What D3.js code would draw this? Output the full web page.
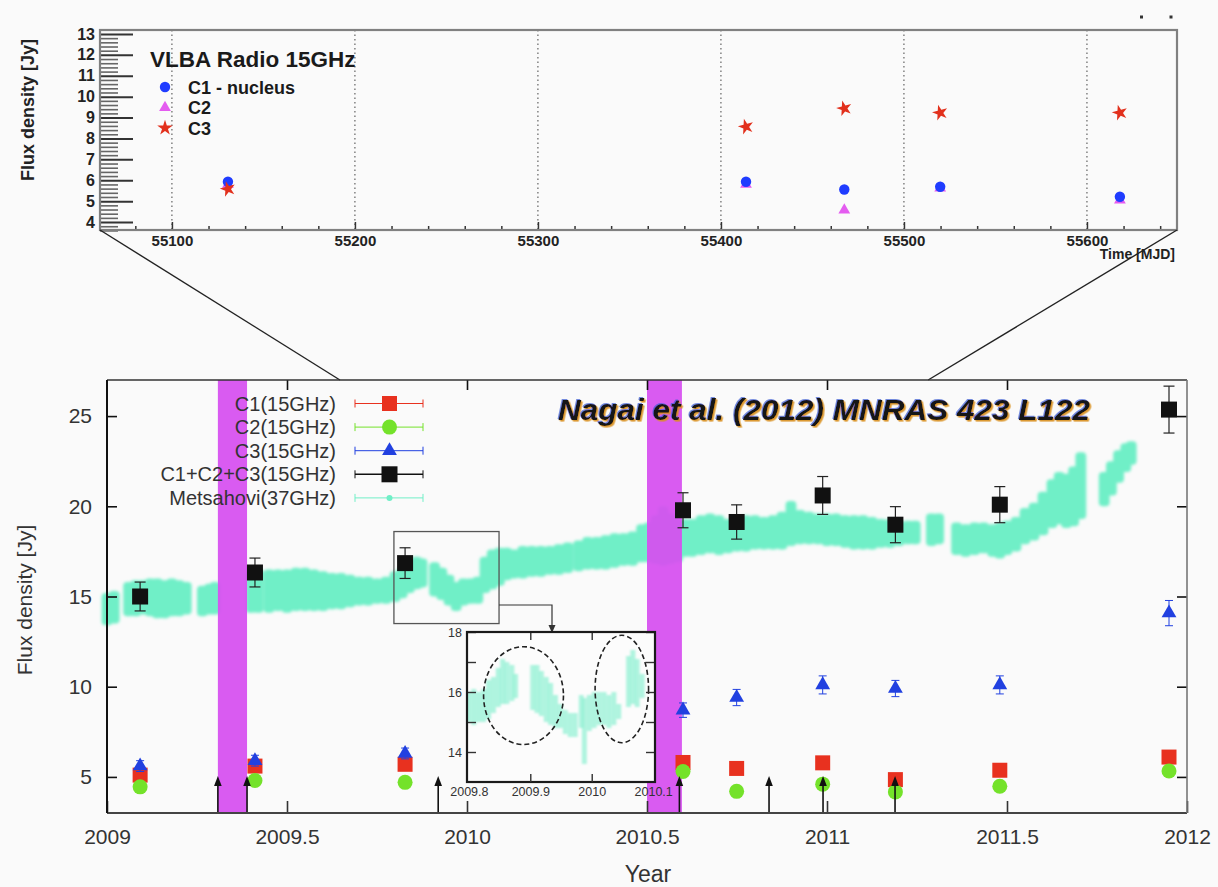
<!DOCTYPE html>
<html><head><meta charset="utf-8">
<script src="https://cdn.jsdelivr.net/npm/d3@7"></script>
<style>
html,body{margin:0;padding:0;background:#fafafa;}
svg{display:block;font-family:"Liberation Sans", Arial, Helvetica, sans-serif;}
</style></head><body>
<svg id="c" width="1218" height="887"></svg>
<script>
// ================= DATA =================
// --- top panel: VLBA 15 GHz (MJD)
const vlbaMJD = [55130.6, 55413.7, 55467.4, 55519.8, 55618.0];
const vlbaC1  = [5.93, 5.93, 5.56, 5.69, 5.21];
const vlbaC2  = [5.80, 5.80, 4.57, 5.62, 5.05];
const vlbaC3  = [5.58, 8.56, 9.44, 9.23, 9.23];
const mjdTicks = [55100, 55200, 55300, 55400, 55500, 55600];
const topYTicks = [4, 5, 6, 7, 8, 9, 10, 11, 12, 13];
const topLegend = ["C1 - nucleus", "C2", "C3"];

// --- main panel: components at 15 GHz (year)
const years    = [2009.092, 2009.411, 2009.828, 2010.600, 2010.749, 2010.988, 2011.190, 2011.480, 2011.950];
const c1       = [5.10, 5.60, 5.70, 5.80, 5.47, 5.78, 4.85, 5.37, 6.10];
const c2       = [4.45, 4.80, 4.70, 5.30, 4.20, 4.60, 4.17, 4.48, 5.33];
const c3       = [5.60, 5.90, 6.30, 8.70, 9.40, 10.10, 9.90, 10.10, 14.08];
const c3Err    = [0.30, 0.30, 0.30, 0.40, 0.45, 0.50, 0.45, 0.50, 0.70];
const total    = [15.00, 16.33, 16.85, 19.78, 19.13, 20.60, 18.98, 20.09, 25.36];
const totalErr = [0.80, 0.80, 0.85, 0.97, 0.95, 1.05, 1.00, 1.00, 1.30];
const xTicks = [2009, 2009.5, 2010, 2010.5, 2011, 2011.5, 2012];
const yTicks = [5, 10, 15, 20, 25];
const legendLabels = ["C1(15GHz)", "C2(15GHz)", "C3(15GHz)", "C1+C2+C3(15GHz)", "Metsahovi(37GHz)"];

// --- Metsahovi 37 GHz light curve, read as (time, lower edge, upper edge) of the point cloud
const metT = [2009.000,2009.020,2009.060,2009.080,2009.100,2009.120,2009.140,2009.160,2009.180,2009.200,2009.220,
  2009.265,2009.285,2009.300,
  2009.400,2009.420,2009.450,2009.475,2009.500,2009.525,2009.550,2009.575,2009.600,2009.625,2009.650,2009.675,2009.700,2009.725,2009.750,2009.775,
  2009.800,2009.820,2009.840,2009.860,2009.875,
  2009.910,2009.930,2009.950,2009.970,2009.990,2010.010,2010.030,2010.050,2010.070,2010.090,2010.110,2010.130,2010.155,2010.180,2010.205,2010.230,2010.255,
  2010.280,2010.310,2010.335,2010.360,2010.385,2010.410,2010.435,2010.460,2010.485,2010.505,2010.525,2010.545,2010.565,2010.585,2010.605,2010.625,
  2010.650,2010.675,2010.700,2010.725,2010.750,2010.775,2010.800,2010.825,2010.850,2010.875,2010.900,2010.925,2010.950,2010.975,
  2011.000,2011.025,2011.050,2011.075,2011.100,2011.125,2011.150,2011.175,2011.200,2011.225,2011.245,
  2011.290,2011.310,
  2011.360,2011.385,2011.410,2011.435,2011.460,2011.480,2011.500,2011.525,2011.550,2011.575,2011.600,2011.625,2011.645,2011.665,2011.685,2011.705,
  2011.770,2011.790,2011.810,2011.830,2011.845];
const metLo = [13.4,13.5,13.9,13.9,14.0,13.9,13.8,13.8,13.9,13.9,14.0,
  13.9,14.0,14.0,
  14.1,14.1,14.1,14.2,14.1,14.2,14.2,14.2,14.2,14.3,14.3,14.4,14.5,14.5,14.6,14.6,
  14.7,14.9,15.2,15.4,15.5,
  15.0,14.8,14.5,14.2,14.5,14.6,14.6,15.2,15.4,15.6,15.9,16.0,16.0,16.1,16.1,16.2,16.2,
  16.3,16.4,16.5,16.5,16.5,16.6,16.7,16.7,16.9,16.9,16.8,16.7,16.8,16.9,17.2,17.2,
  17.3,17.4,17.3,17.4,17.5,17.5,17.6,17.6,17.6,17.6,17.8,17.9,17.9,17.9,
  17.8,17.8,17.7,17.6,17.6,17.6,17.7,17.7,17.8,17.9,17.9,
  17.8,17.9,
  17.3,17.2,17.3,17.4,17.2,17.1,17.3,17.5,17.9,18.1,18.4,18.8,19.0,18.8,18.9,19.3,
  20.0,20.6,21.3,21.9,22.3];
const metHi = [15.2,15.3,15.8,15.9,15.9,16.0,16.0,15.9,16.0,15.9,15.8,
  15.6,15.7,15.8,
  16.4,16.5,16.5,16.5,16.5,16.6,16.6,16.5,16.4,16.3,16.3,16.2,16.1,16.1,16.0,16.1,
  16.4,16.6,17.0,17.2,17.1,
  16.9,16.6,16.2,15.8,16.0,16.0,16.1,17.2,17.6,17.7,17.7,17.6,17.8,17.8,17.8,17.8,17.9,
  18.0,18.1,18.3,18.3,18.4,18.5,18.5,18.6,19.0,19.1,19.5,20.0,19.6,19.3,19.3,19.3,
  19.5,19.6,19.5,19.3,19.4,19.5,19.5,19.4,19.5,19.7,20.3,19.8,19.7,19.6,
  19.6,19.6,19.5,19.5,19.5,19.4,19.3,19.3,19.2,19.2,19.2,
  19.6,19.6,
  19.1,19.0,19.1,19.1,19.0,19.1,19.2,19.4,19.9,20.2,20.8,21.5,21.9,21.8,22.2,23.0,
  21.9,22.5,23.1,23.5,23.6];

// --- inset (zoom on 2009.8 - 2010.1)
const insT = [2009.800,2009.808,2009.816,2009.824,2009.832,2009.840,2009.848,2009.855,2009.862,2009.870,2009.876,
  2009.904,2009.911,2009.918,2009.926,2009.933,2009.941,2009.949,2009.957,2009.965,2009.973,2009.983,2009.988,
  2009.996,2010.004,2010.012,2010.020,2010.028,2010.036,2010.044,2010.060,2010.067,2010.074,2010.082];
const insLo = [15.0,14.9,15.0,15.0,15.1,15.3,15.5,15.6,15.6,15.7,15.8,
  15.4,15.3,15.2,15.0,14.9,14.8,14.8,14.6,14.5,14.5,14.8,13.6,
  14.7,14.8,14.9,14.9,14.8,14.9,15.1,15.5,15.6,15.5,15.8];
const insHi = [16.0,16.1,16.0,16.1,16.4,16.5,16.8,17.1,17.0,16.9,16.6,
  16.9,16.9,16.7,16.5,16.3,15.9,15.6,15.4,15.3,15.3,15.9,15.8,
  15.9,16.0,16.0,16.0,15.9,16.0,15.6,17.2,17.4,17.1,16.6];
const insXTicks = [2009.8, 2009.9, 2010, 2010.1];
const insYTicks = [14, 15, 16, 17, 18];
const insBox = {t0: 2009.797, t1: 2010.089, v0: 13.5, v1: 18.6};   // box marked on the main light curve
const ellipses = [{t: 2009.889, v: 15.88, dt: 0.065, dv: 1.63}, {t: 2010.049, v: 16.10, dt: 0.0435, dv: 1.79}];

// --- flares (magenta bands), arrows, zoom connector
const bandStart = [2009.308, 2010.500];
const bandEnd   = [2009.389, 2010.597];
const arrowYears = [2009.308, 2009.389, 2009.920, 2010.590, 2010.839, 2010.989, 2011.189];
const arrowTip = 5.05;
const zoomYears = [2009.647, 2011.281];

// ================= DRAWING =================
const W = 1218, H = 887;
const svg = d3.select("#c");
svg.append("rect").attr("width", W).attr("height", H).attr("fill", "#fafafa");
const defs = svg.append("defs");
defs.append("filter").attr("id", "blur").attr("x", "-5%").attr("y", "-5%").attr("width", "110%").attr("height", "110%")
  .append("feGaussianBlur").attr("stdDeviation", 1.8);
defs.append("filter").attr("id", "blurS").attr("x", "-5%").attr("y", "-5%").attr("width", "110%").attr("height", "110%")
  .append("feGaussianBlur").attr("stdDeviation", 1.0);
const tf = defs.append("filter").attr("id", "tshadow").attr("x", "-5%").attr("y", "-30%").attr("width", "110%").attr("height", "160%");
tf.append("feDropShadow").attr("dx", -1).attr("dy", -1).attr("stdDeviation", 0.4).attr("flood-color", "#3b5bd0").attr("flood-opacity", 0.7);
tf.append("feDropShadow").attr("dx", 1.6).attr("dy", 1.6).attr("stdDeviation", 0.4).attr("flood-color", "#d9901c").attr("flood-opacity", 0.9);
defs.append("clipPath").attr("id", "insClip").append("rect")
  .attr("x", 467).attr("y", 632).attr("width", 188).attr("height", 150);

const COL = {red: "#e8311f", green: "#74e22a", blue: "#2140e0", cyan: "#70efc7", mag: "#d64ff0",
             tBlue: "#1f3cff", tMag: "#e45cf0", tRed: "#e2301c"};

// ---------- TOP PANEL ----------
const T = {l: 100, r: 1177, t: 30, b: 230};
const xm = d3.scaleLinear().domain([55060.7, 55649.2]).range([T.l, T.r]);
const ym = d3.scaleLinear().domain([3.62, 13.19]).range([T.b, T.t]);
const topG = svg.append("g");

topG.selectAll("line.grid").data(mjdTicks).join("line")
  .attr("x1", d => xm(d)).attr("x2", d => xm(d)).attr("y1", T.t).attr("y2", T.b)
  .attr("stroke", "#444").attr("stroke-width", 1).attr("stroke-dasharray", "1.5,3");

const minorY = d3.range(36, 132, 2).map(d => d / 10).filter(d => d % 1 !== 0);
topG.append("g").attr("transform", `translate(${T.l},0)`)
  .call(d3.axisLeft(ym).tickValues(minorY).tickSize(-18).tickFormat(""))
  .call(g => g.select(".domain").remove())
  .call(g => g.selectAll("line").attr("stroke", "#666").attr("stroke-width", 1.6));
topG.append("g").attr("transform", `translate(${T.l},0)`)
  .call(d3.axisLeft(ym).tickValues(topYTicks).tickSize(-33).tickPadding(5))
  .call(g => g.select(".domain").remove())
  .call(g => g.selectAll("line").attr("stroke", "#333").attr("stroke-width", 2))
  .call(g => g.selectAll("text").attr("font-size", 16).attr("font-weight", "bold").attr("fill", "#222")
    .attr("font-family", "'Liberation Sans', Arial, sans-serif"));

const minorX = d3.range(55080, 55649, 20).filter(d => d % 100 !== 0);
topG.append("g").attr("transform", `translate(0,${T.b})`)
  .call(d3.axisBottom(xm).tickValues(minorX).tickSize(-4).tickFormat(""))
  .call(g => g.select(".domain").remove())
  .call(g => g.selectAll("line").attr("stroke", "#333").attr("stroke-width", 1.5));
topG.append("g").attr("transform", `translate(0,${T.b})`)
  .call(d3.axisBottom(xm).tickValues(mjdTicks).tickSize(-8).tickPadding(5).tickFormat(d3.format("d")))
  .call(g => g.select(".domain").remove())
  .call(g => g.selectAll("line").attr("stroke", "#333").attr("stroke-width", 1.5))
  .call(g => g.selectAll("text").attr("font-size", 15).attr("font-weight", "bold").attr("fill", "#222")
    .attr("font-family", "'Liberation Sans', Arial, sans-serif"));

topG.append("rect").attr("x", T.l).attr("y", T.t).attr("width", T.r - T.l).attr("height", T.b - T.t)
  .attr("fill", "none").attr("stroke", "#808080").attr("stroke-width", 2.2);

topG.append("text").attr("x", T.r - 2).attr("y", 259).attr("text-anchor", "end")
  .attr("font-size", 14).attr("font-weight", "bold").attr("fill", "#222").text("Time [MJD]");
topG.append("text").attr("transform", `translate(34,${(T.t + T.b) / 2 - 20}) rotate(-90)`)
  .attr("text-anchor", "middle").attr("font-size", 18).attr("font-weight", "bold").attr("fill", "#222")
  .text("Flux density [Jy]");

const symC = d3.symbol().type(d3.symbolCircle).size(85);
const symT = d3.symbol().type(d3.symbolTriangle).size(60);
const symS = d3.symbol().type(d3.symbolStar).size(75);
const vlba = vlbaMJD.map((m, i) => ({m, c1: vlbaC1[i], c2: vlbaC2[i], c3: vlbaC3[i]}));
topG.selectAll("path.c2").data(vlba).join("path").attr("d", symT)
  .attr("transform", d => `translate(${xm(d.m)},${ym(d.c2)})`).attr("fill", COL.tMag);
topG.selectAll("path.c1").data(vlba).join("path").attr("d", symC)
  .attr("transform", d => `translate(${xm(d.m)},${ym(d.c1)})`).attr("fill", COL.tBlue);
topG.selectAll("path.c3").data(vlba).join("path").attr("d", symS)
  .attr("transform", d => `translate(${xm(d.m)},${ym(d.c3)}) rotate(-15)`).attr("fill", COL.tRed);

// top legend
topG.append("text").attr("x", 150).attr("y", 67).attr("font-size", 22.5).attr("font-weight", "bold")
  .attr("fill", "#1a1a1a").text("VLBA Radio 15GHz");
const tl = topG.selectAll("g.tl").data(topLegend).join("g")
  .attr("transform", (d, i) => `translate(0,${87 + i * 20.5})`);
tl.append("path").attr("d", (d, i) => [symC, symT, symS][i]())
  .attr("transform", "translate(165,0)").attr("fill", (d, i) => [COL.tBlue, COL.tMag, COL.tRed][i]);
tl.append("text").attr("x", 188).attr("y", 6.5).attr("font-size", 18).attr("font-weight", "bold")
  .attr("fill", "#1a1a1a").text(d => d);

svg.append("rect").attr("x", 1140).attr("y", 15.5).attr("width", 3).attr("height", 3).attr("fill", "#333");
svg.append("rect").attr("x", 1169.5).attr("y", 15.5).attr("width", 3).attr("height", 3).attr("fill", "#333");

// ---------- MAIN PANEL ----------
const M = {l: 107, r: 1187, t: 380, b: 813};
const x = d3.scaleLinear().domain([2009, 2012]).range([M.l, M.r]);
const y = d3.scaleLinear().domain([3, 27]).range([M.b, M.t]);
const main = svg.append("g");

// zoom connector lines
main.append("line").attr("x1", T.l).attr("y1", T.b).attr("x2", x(zoomYears[0])).attr("y2", M.t)
  .attr("stroke", "#222").attr("stroke-width", 1.4);
main.append("line").attr("x1", T.r).attr("y1", T.b).attr("x2", x(zoomYears[1])).attr("y2", M.t)
  .attr("stroke", "#222").attr("stroke-width", 1.4);

// Metsahovi cloud
const met = metT.map((t, i) => ({t, lo: metLo[i], hi: metHi[i]}));
const bw = x(2009.03) - x(2009);
main.append("g").attr("filter", "url(#blur)").selectAll("rect").data(met).join("rect")
  .attr("x", d => x(d.t) - bw / 2).attr("width", bw)
  .attr("y", d => y(d.hi)).attr("height", d => y(d.lo) - y(d.hi))
  .attr("rx", 4).attr("fill", COL.cyan);

// box on the curve + arrow to inset
main.append("rect").attr("x", x(insBox.t0)).attr("y", y(insBox.v1))
  .attr("width", x(insBox.t1) - x(insBox.t0)).attr("height", y(insBox.v0) - y(insBox.v1))
  .attr("fill", "none").attr("stroke", "#555").attr("stroke-width", 1.3);
main.append("path").attr("d", `M${x(insBox.t1)},605 H552 V626`).attr("fill", "none")
  .attr("stroke", "#333").attr("stroke-width", 1.2);
main.append("path").attr("d", "M548.5,625 L555.5,625 L552,633 Z").attr("fill", "#333");

// inset
const I = {l: 467, r: 655, t: 632, b: 782};
const xi = d3.scaleLinear().domain([2009.797, 2010.103]).range([I.l, I.r]);
const yi = d3.scaleLinear().domain([13, 18]).range([I.b, I.t]);
const ins = svg.append("g");
ins.append("rect").attr("x", I.l).attr("y", I.t).attr("width", I.r - I.l).attr("height", I.b - I.t).attr("fill", "#fcfcfc");
const insD = insT.map((t, i) => ({t, lo: insLo[i], hi: insHi[i]}));
ins.append("g").attr("clip-path", "url(#insClip)").attr("filter", "url(#blurS)")
  .selectAll("rect").data(insD).join("rect")
  .attr("x", d => xi(d.t) - 2.5).attr("width", 5)
  .attr("y", d => yi(d.hi)).attr("height", d => yi(d.lo) - yi(d.hi))
  .attr("fill", "#86f0d0").attr("opacity", 0.65);
ins.selectAll("ellipse").data(ellipses).join("ellipse")
  .attr("cx", d => xi(d.t)).attr("cy", d => yi(d.v))
  .attr("rx", d => xi(d.t + d.dt) - xi(d.t)).attr("ry", d => yi(d.v) - yi(d.v + d.dv))
  .attr("fill", "none").attr("stroke", "#222").attr("stroke-width", 1.6).attr("stroke-dasharray", "5,3");
const insFont = g => g.selectAll("text").attr("font-size", 12.5).attr("fill", "#333")
  .attr("font-family", "'Liberation Sans', Arial, sans-serif");
ins.append("g").attr("transform", `translate(${I.l},0)`)
  .call(d3.axisLeft(yi).tickValues(insYTicks).tickSize(-9).tickPadding(5).tickFormat(d => d % 2 === 0 ? d : ""))
  .call(g => g.select(".domain").remove()).call(g => g.selectAll("line").attr("stroke", "#333").attr("stroke-width", 1.4))
  .call(insFont);
ins.append("g").attr("transform", `translate(${I.r},0)`)
  .call(d3.axisRight(yi).tickValues(insYTicks).tickSize(-9).tickFormat(""))
  .call(g => g.select(".domain").remove()).call(g => g.selectAll("line").attr("stroke", "#333").attr("stroke-width", 1.4));
ins.append("g").attr("transform", `translate(0,${I.t})`)
  .call(d3.axisTop(xi).tickValues(insXTicks.slice(1, 3)).tickSize(-8).tickFormat(""))
  .call(g => g.select(".domain").remove()).call(g => g.selectAll("line").attr("stroke", "#333").attr("stroke-width", 1.4));
ins.append("rect").attr("x", I.l).attr("y", I.t).attr("width", I.r - I.l).attr("height", I.b - I.t)
  .attr("fill", "none").attr("stroke", "#1a1a1a").attr("stroke-width", 2.2);

// magenta flare bands
const bands = bandStart.map((s, i) => ({s, e: bandEnd[i]}));
main.append("g").selectAll("rect").data(bands).join("rect")
  .attr("x", d => x(d.s)).attr("width", d => x(d.e) - x(d.s))
  .attr("y", M.t).attr("height", M.b - M.t).attr("fill", COL.mag).attr("opacity", 0.93);

// inset bottom axis (labels drawn above band)
ins.append("g").attr("transform", `translate(0,${I.b})`)
  .call(d3.axisBottom(xi).tickValues(insXTicks).tickSize(-8).tickPadding(5).tickFormat(d => String(+d.toFixed(1))))
  .call(g => g.select(".domain").remove()).call(g => g.selectAll("line").attr("stroke", "#333").attr("stroke-width", 1.4))
  .call(g => g.selectAll(".tick").filter(d => d === 2009.8 || d === 2010.1).select("line").remove())
  .call(insFont);
ins.raise();

// data markers
const pts = years.map((t, i) => ({t, c1: c1[i], c2: c2[i], c3: c3[i], e3: c3Err[i], tot: total[i], et: totalErr[i]}));
const mk = svg.append("g");
mk.append("g").selectAll("rect").data(pts).join("rect")
  .attr("x", d => x(d.t) - 7.5).attr("y", d => y(d.c1) - 7.5).attr("width", 15).attr("height", 15).attr("fill", COL.red);
mk.append("g").selectAll("circle").data(pts).join("circle")
  .attr("cx", d => x(d.t)).attr("cy", d => y(d.c2)).attr("r", 7.5).attr("fill", COL.green);
const eb3 = mk.append("g").selectAll("g").data(pts).join("g").attr("stroke", COL.blue).attr("stroke-width", 1);
eb3.append("line").attr("x1", d => x(d.t)).attr("x2", d => x(d.t)).attr("y1", d => y(d.c3 - d.e3)).attr("y2", d => y(d.c3 + d.e3));
eb3.append("line").attr("x1", d => x(d.t) - 4).attr("x2", d => x(d.t) + 4).attr("y1", d => y(d.c3 - d.e3)).attr("y2", d => y(d.c3 - d.e3));
eb3.append("line").attr("x1", d => x(d.t) - 4).attr("x2", d => x(d.t) + 4).attr("y1", d => y(d.c3 + d.e3)).attr("y2", d => y(d.c3 + d.e3));
const tri = d3.symbol().type(d3.symbolTriangle).size(95);
mk.append("g").selectAll("path").data(pts).join("path").attr("d", tri)
  .attr("transform", d => `translate(${x(d.t)},${y(d.c3)})`).attr("fill", COL.blue);
const ebt = mk.append("g").selectAll("g").data(pts).join("g").attr("stroke", "#222").attr("stroke-width", 1.2);
ebt.append("line").attr("x1", d => x(d.t)).attr("x2", d => x(d.t)).attr("y1", d => y(d.tot - d.et)).attr("y2", d => y(d.tot + d.et));
ebt.append("line").attr("x1", d => x(d.t) - 5.5).attr("x2", d => x(d.t) + 5.5).attr("y1", d => y(d.tot - d.et)).attr("y2", d => y(d.tot - d.et));
ebt.append("line").attr("x1", d => x(d.t) - 5.5).attr("x2", d => x(d.t) + 5.5).attr("y1", d => y(d.tot + d.et)).attr("y2", d => y(d.tot + d.et));
mk.append("g").selectAll("rect").data(pts).join("rect")
  .attr("x", d => x(d.t) - 8).attr("y", d => y(d.tot) - 8).attr("width", 16).attr("height", 16).attr("fill", "#111");

const ov = svg.append("g");
// arrows
const ar = ov.selectAll("g.arrow").data(arrowYears).join("g");
ar.append("line").attr("x1", d => x(d)).attr("x2", d => x(d)).attr("y1", y(3)).attr("y2", y(arrowTip) + 6)
  .attr("stroke", "#111").attr("stroke-width", 1.6);
ar.append("path").attr("d", d => `M${x(d)},${y(arrowTip)} L${x(d) - 3.8},${y(arrowTip) + 10} L${x(d) + 3.8},${y(arrowTip) + 10} Z`)
  .attr("fill", "#111");

// axes
const axFont = g => g.selectAll("text").attr("font-size", 21).attr("fill", "#333")
  .attr("font-family", "'Liberation Sans', Arial, sans-serif");
ov.append("g").attr("transform", `translate(${M.l},0)`)
  .call(d3.axisLeft(y).tickValues(yTicks).tickSize(-10).tickPadding(15))
  .call(g => g.select(".domain").remove()).call(g => g.selectAll("line").attr("stroke", "#111").attr("stroke-width", 1.6))
  .call(axFont);
ov.append("g").attr("transform", `translate(${M.r},0)`)
  .call(d3.axisRight(y).tickValues(yTicks).tickSize(-10).tickFormat(""))
  .call(g => g.select(".domain").remove()).call(g => g.selectAll("line").attr("stroke", "#111").attr("stroke-width", 1.6));
ov.append("g").attr("transform", `translate(0,${M.b})`)
  .call(d3.axisBottom(x).tickValues(xTicks).tickSize(-12).tickPadding(16).tickFormat(d => String(d)))
  .call(g => g.select(".domain").remove()).call(g => g.selectAll("line").attr("stroke", "#333").attr("stroke-width", 1.6))
  .call(axFont);
ov.append("g").attr("transform", `translate(0,${M.t})`)
  .call(d3.axisTop(x).tickValues(xTicks.slice(1, -1)).tickSize(-10).tickFormat(""))
  .call(g => g.select(".domain").remove()).call(g => g.selectAll("line").attr("stroke", "#111").attr("stroke-width", 1.6));

// frame
ov.append("line").attr("x1", M.l).attr("x2", M.r).attr("y1", M.t).attr("y2", M.t).attr("stroke", "#333").attr("stroke-width", 1.3);
ov.append("line").attr("x1", M.l).attr("x2", M.r).attr("y1", M.b).attr("y2", M.b).attr("stroke", "#444").attr("stroke-width", 2);
ov.append("line").attr("x1", M.l).attr("x2", M.l).attr("y1", M.t).attr("y2", M.b).attr("stroke", "#111").attr("stroke-width", 2);
ov.append("line").attr("x1", M.r).attr("x2", M.r).attr("y1", M.t).attr("y2", M.b).attr("stroke", "#777").attr("stroke-width", 1.6);

ov.append("text").attr("x", 648).attr("y", 882).attr("text-anchor", "middle").attr("font-size", 23)
  .attr("fill", "#333").text("Year");
ov.append("text").attr("transform", "translate(32,600) rotate(-90)").attr("text-anchor", "middle")
  .attr("font-size", 21).attr("fill", "#333").text("Flux density [Jy]");

// legend
const legColors = [COL.red, COL.green, COL.blue, "#111", COL.cyan];
const lg = ov.selectAll("g.leg").data(legendLabels).join("g")
  .attr("transform", (d, i) => `translate(0,${403.5 + i * 23.6})`);
lg.append("text").attr("x", 336).attr("y", 7).attr("text-anchor", "end").attr("font-size", 20).attr("fill", "#333").text(d => d);
lg.append("line").attr("x1", 355).attr("x2", 423).attr("y1", 0).attr("y2", 0)
  .attr("stroke", (d, i) => legColors[i]).attr("stroke-width", (d, i) => i === 3 ? 1.5 : 1);
lg.append("line").attr("x1", 355).attr("x2", 355).attr("y1", -4).attr("y2", 4)
  .attr("stroke", (d, i) => legColors[i]).attr("stroke-width", 1);
lg.append("line").attr("x1", 423).attr("x2", 423).attr("y1", -4).attr("y2", 4)
  .attr("stroke", (d, i) => legColors[i]).attr("stroke-width", 1);
lg.each(function(d, i) {
  const g = d3.select(this);
  if (i === 0) g.append("rect").attr("x", 382).attr("y", -7.5).attr("width", 15).attr("height", 15).attr("fill", COL.red);
  if (i === 1) g.append("circle").attr("cx", 389.5).attr("cy", 0).attr("r", 7.5).attr("fill", COL.green);
  if (i === 2) g.append("path").attr("d", tri).attr("transform", "translate(389.5,0)").attr("fill", COL.blue);
  if (i === 3) g.append("rect").attr("x", 381.5).attr("y", -8).attr("width", 16).attr("height", 16).attr("fill", "#111");
  if (i === 4) g.append("circle").attr("cx", 389.5).attr("cy", 0).attr("r", 3).attr("fill", COL.cyan);
});

// title
ov.append("text").attr("x", 558).attr("y", 420)
  .attr("font-size", 30).attr("font-weight", "bold").attr("font-style", "italic")
  .attr("textLength", 532).attr("lengthAdjust", "spacingAndGlyphs")
  .attr("fill", "#121212").attr("filter", "url(#tshadow)")
  .text("Nagai et al. (2012) MNRAS 423 L122");
</script>
</body></html>
